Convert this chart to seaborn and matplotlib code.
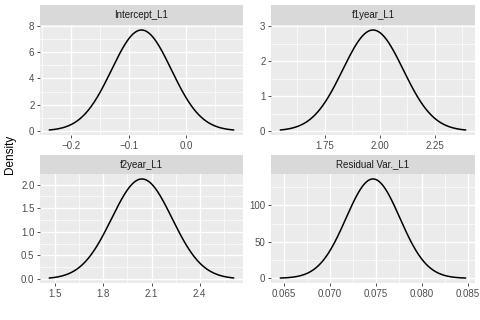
import numpy as np
import pandas as pd
import matplotlib
matplotlib.use("Agg")
import matplotlib.pyplot as plt
import seaborn as sns

# ---- data (posterior density summaries) ----
params = ["Intercept_L1", "f1year_L1", "f2year_L1", "Residual Var._L1"]
means = [-0.078, 1.970, 2.040, 0.0747]
sds = [0.0518, 0.1376, 0.188, 0.00293]
x_lo = [-0.238, 1.548, 1.4625, 0.0646]
x_hi = [0.082, 2.392, 2.6125, 0.0848]

x_major = [[-0.2, -0.1, 0.0], [1.75, 2.00, 2.25], [1.5, 1.8, 2.1, 2.4],
           [0.065, 0.070, 0.075, 0.080, 0.085]]
x_labels = [["\u22120.2", "\u22120.1", "0.0"], ["1.75", "2.00", "2.25"],
            ["1.5", "1.8", "2.1", "2.4"],
            ["0.065", "0.070", "0.075", "0.080", "0.085"]]
y_major = [[0, 2, 4, 6, 8], [0, 1, 2, 3], [0.0, 0.5, 1.0, 1.5, 2.0], [0, 50, 100]]
y_labels = [["0", "2", "4", "6", "8"], ["0", "1", "2", "3"],
            ["0.0", "0.5", "1.0", "1.5", "2.0"], ["0", "50", "100"]]

frames = []
for p, m, s, lo, hi in zip(params, means, sds, x_lo, x_hi):
    xs = np.linspace(lo, hi, 300)
    ys = np.exp(-0.5 * ((xs - m) / s) ** 2) / (s * np.sqrt(2 * np.pi))
    frames.append(pd.DataFrame({"param": p, "value": xs, "density": ys}))
df = pd.concat(frames, ignore_index=True)

sns.set_theme(style="white")
plt.rcParams["font.family"] = ["Liberation Sans", "DejaVu Sans"]

fig = plt.figure(figsize=(4.8, 3.2), dpi=100)
W, H = 480.0, 320.0

# panel boxes in pixel coords: (left, right, strip_top, plot_top, plot_bottom)
cols = [(40, 243), (271, 475)]
rows = [(5, 25, 135), (155, 174, 283)]

def minors(major, lo, hi):
    step = major[1] - major[0]
    ext = [major[0] - step] + list(major) + [major[-1] + step]
    mids = [(a + b) / 2 for a, b in zip(ext[:-1], ext[1:])]
    return [v for v in mids if lo <= v <= hi]

for i, p in enumerate(params):
    r, c = divmod(i, 2)
    left, right = cols[c]
    s_top, p_top, p_bot = rows[r]
    ax = fig.add_axes([left / W, 1 - p_bot / H, (right - left) / W, (p_bot - p_top) / H])
    sax = fig.add_axes([left / W, 1 - p_top / H, (right - left) / W, (p_top - s_top) / H])
    sax.set_facecolor("#D9D9D9")
    sax.set_xticks([]); sax.set_yticks([])
    for sp in sax.spines.values():
        sp.set_visible(False)
    sax.text(0.5, 0.5, p, ha="center", va="center", fontsize=7, color="#1A1A1A",
             transform=sax.transAxes)

    sub = df[df["param"] == p]
    sns.lineplot(data=sub, x="value", y="density", ax=ax, color="black", lw=1.1)
    ax.set_facecolor("#EBEBEB")
    for sp in ax.spines.values():
        sp.set_visible(False)
    ax.margins(x=0.05, y=0.05)
    ax.autoscale_view()
    xl = ax.get_xlim(); yl = ax.get_ylim()
    ax.set_xticks(x_major[i])
    ax.set_xticklabels(x_labels[i])
    ax.set_yticks(y_major[i])
    ax.set_yticklabels(y_labels[i])
    ax.set_xticks(minors(x_major[i], *xl), minor=True)
    ax.set_yticks(minors(y_major[i], *yl), minor=True)
    ax.set_xlim(xl); ax.set_ylim(yl)
    ax.grid(which="major", color="white", lw=1.0)
    ax.grid(which="minor", color="white", lw=0.5)
    ax.set_axisbelow(True)
    ax.tick_params(which="major", length=2.5, width=0.6, color="#333333",
                   labelsize=7, labelcolor="#4D4D4D", pad=1.5,
                   bottom=True, left=True)
    ax.tick_params(which="minor", length=0)
    ax.set_xlabel("")
    ax.set_ylabel("")

fig.text(10 / W, 1 - 154 / H, "Density", rotation=90, ha="center", va="center",
         fontsize=8.5, color="black")

fig.savefig("out.png", dpi=100)
